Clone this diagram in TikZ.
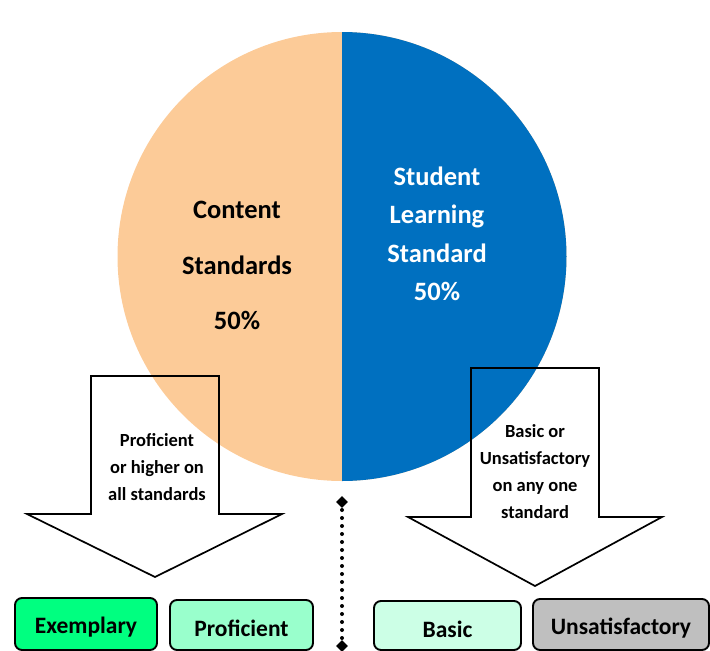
\documentclass[tikz,border=0pt]{standalone}
\usepackage{fontspec}
\setmainfont{Carlito}
\usetikzlibrary{arrows.meta,shapes.geometric}
\definecolor{peach}{HTML}{FCCB98}
\definecolor{slblue}{HTML}{0070C0}
\definecolor{exgreen}{HTML}{00FF80}
\definecolor{prgreen}{HTML}{99FFCC}
\definecolor{bagreen}{HTML}{CCFFE6}
\definecolor{ungray}{HTML}{BFBFBF}
\begin{document}
\begin{tikzpicture}[x=1pt,y=-1pt,
  bigtext/.style={font=\fontsize{26.5}{38.5}\selectfont\bfseries, align=center},
  smalltext/.style={font=\fontsize{18.5}{27}\selectfont\bfseries, align=center},
  boxtext/.style={font=\fontsize{23.5}{28}\selectfont\bfseries},
  bigarrow/.style={draw=black, line width=1.7pt, line join=miter},
  levelbox/.style={draw=black, line width=1.9pt, rounded corners=7pt},
  enddiamond/.style={diamond, fill=black, inner sep=0pt, minimum width=12pt, minimum height=12pt}]
\useasboundingbox (0,0) rectangle (710,651);
% pie
\fill[peach] (342,256.5) circle[radius=224.5];
\begin{scope}
  \clip (342,0) rectangle (710,651);
  \fill[slblue] (342,256.5) circle[radius=224.5];
\end{scope}
\node[bigtext] (content) at (237,210) {Content};
\node[bigtext] (standards) at (237,265) {Standards};
\node[bigtext] (fifty1) at (237,320) {50\%};
\node[bigtext, text=white] (slstd) at (437,234) {Student\\Learning\\Standard\\50\%};
% arrows
\draw[bigarrow] (91,376) -- (219,376) -- (219,514) -- (282,514) -- (155,577) -- (27,514) -- (91,514) -- cycle;
\draw[bigarrow] (471,368) -- (599,368) -- (599,517) -- (662,517) -- (535,586) -- (408,517) -- (471,517) -- cycle;
\node[smalltext] (proftext) at (157,467) {Proficient\\or higher on\\all standards};
\node[smalltext] (basictext) at (535,472) {Basic or\\Unsatisfactory\\on any one\\standard};
% boxes
\draw[levelbox, fill=exgreen] (15,598) rectangle (157,650);
\draw[levelbox, fill=prgreen] (170,600) rectangle (313,650);
\draw[levelbox, fill=bagreen] (374,601) rectangle (521,650);
\draw[levelbox, fill=ungray] (533,599) rectangle (709,650);
\node[boxtext] (exemplary) at (86,627) {Exemplary};
\node[boxtext] (proficient) at (241.5,628) {Proficient};
\node[boxtext] (basic) at (447.5,629) {Basic};
\node[boxtext] (unsat) at (621,628) {Unsatisfactory};
% dotted divider
\node[enddiamond] (dtop) at (342,502) {};
\node[enddiamond] (dbot) at (342,646) {};
\draw[line width=4pt, line cap=round, dash pattern=on 0pt off 8pt] (dtop.center) -- (dbot.center);
\end{tikzpicture}
\end{document}
